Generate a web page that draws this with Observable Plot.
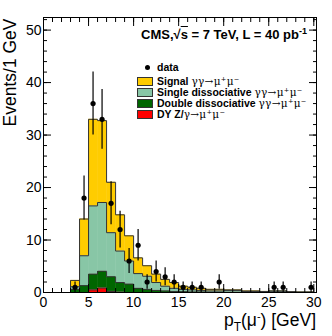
<!DOCTYPE html>
<html><head><meta charset="utf-8">
<script src="https://cdn.jsdelivr.net/npm/d3@7"></script>
<script src="https://cdn.jsdelivr.net/npm/@observablehq/plot@0.6"></script>
<style>
body{margin:0;background:#fff;}
#wrap{position:relative;width:332px;height:336px;font-family:"Liberation Sans",Arial,sans-serif;color:#000;}
#wrap svg{position:absolute;left:0;top:0;}
.ov{position:absolute;white-space:nowrap;line-height:1;}
.gr{font-family:"DejaVu Serif","Liberation Serif",serif;font-weight:normal;letter-spacing:0.3px;}
.lg{position:absolute;left:137px;font-weight:bold;font-size:10.5px;white-space:nowrap;line-height:1;}
.bx{position:absolute;left:137px;width:14px;height:7px;border:1px solid #333;}
</style></head><body><div id="wrap"></div>
<script>
// histogram bins (left edges, 1 GeV wide)
const binStart = [3,4,5,6,7,8,9,10,11,12,13,14,15,16,17,18,19,20,21,22,23,24,25,26,27,28,29];
// per-component expected events (stacked)
const signalMC  = [1.2,7.0,16.5,15.6,9.6,6.9,4.8,3.0,2.0,1.6,1.3,1.1,0.6,0.5,0.4,0.3,0.3,0.1,0.1,0.1,0.1,0.05,0.05,0.05,0.05,0.05,0.05];
const singleMC  = [0.5,5.7,13.0,13.1,8.4,6.0,4.4,2.8,2.5,1.5,0.9,0.6,0.45,0.4,0.3,0.25,0.25,0.35,0.35,0.17,0.17,0.13,0.23,0.23,0.09,0.04,0.04];
const doubleMC  = [0.6,1.3,3.0,3.2,2.8,1.85,1.6,0.8,0.6,0.4,0.3,0.2,0.15,0.1,0.1,0.05,0.05,0.05,0.05,0.03,0.03,0.02,0.02,0.02,0.01,0.01,0.01];
const dyMC      = [0,0,0.5,0.85,0.2,0.05,0,0,0,0,0,0,0,0,0,0,0,0,0,0,0,0,0,0,0,0,0];
// data points
const dataX   = [3.5,4.5,5.5,6.5,7.5,8.5,9.5,10.5,11.5,12.5,13.5,14.5,15.5,16.5,17.5,19.5,25.6,26.6,29.7];
const dataN   = [1,18,36,33,17,12,6,9,2,4,3,2,1,1,1,2,1,1,1];
const dataErr = [1,4.2,6,5.7,4.1,3.5,2.4,3,1.4,2,1.7,1.4,1,1,1,1.4,1,1,1];
// axis ticks
const xMajor = [0,5,10,15,20,25,30];
const xMinor = [0,1,2,3,4,5,6,7,8,9,10,11,12,13,14,15,16,17,18,19,20,21,22,23,24,25,26,27,28,29,30];
const yMajor = [0,10,20,30,40,50];
const yMinor = [0,2,4,6,8,10,12,14,16,18,20,22,24,26,28,30,32,34,36,38,40,42,44,46,48,50,52];
const yTitle = "Events/1 GeV";

const seriesKeys = ["DY","Double","Single","Signal"];
const seriesVals = {DY: dyMC, Double: doubleMC, Single: singleMC, Signal: signalMC};
const colors = {Signal:"#ffcc00", Single:"#88c6a6", Double:"#006600", DY:"#ff0000"};

const rows = [];
for (const s of seriesKeys) binStart.forEach((b,i)=>rows.push({s, x1:b, x2:b+1, v:seriesVals[s][i]}));

// outlines of cumulative stacks
const outline = [];
const cum = binStart.map(()=>0);
for (const s of seriesKeys) {
  binStart.forEach((b,i)=>{ cum[i] += seriesVals[s][i]; });
  outline.push({s, x: binStart[0], y: 0});
  binStart.forEach((b,i)=>outline.push({s, x:b, y:cum[i]}));
  outline.push({s, x: binStart[binStart.length-1]+1, y: cum[cum.length-1]});
  outline.push({s, x: binStart[binStart.length-1]+1, y: 0});
}
const pts = dataX.map((x,i)=>({x, n:dataN[i], e:dataErr[i]}));

const blank = () => "";
const chart = Plot.plot({
  width: 332, height: 336,
  marginLeft: 43, marginRight: 16, marginTop: 17, marginBottom: 44,
  style: {fontFamily: "'Liberation Sans', Arial, sans-serif", fontSize: "14px", color: "#000", background: "transparent"},
  x: {domain: [0, 30.3]},
  y: {domain: [0, 52.4]},
  color: {domain: Object.keys(colors), range: Object.values(colors)},
  marks: [
    Plot.rectY(rows, {x1:"x1", x2:"x2", y:"v", fill:"s", order: seriesKeys}),
    Plot.line(outline, {x:"x", y:"y", z:"s", curve:"step-after", stroke:"#333", strokeWidth:1}),
    Plot.ruleX(pts, {x:"x", y1: d=>d.n-d.e, y2: d=>d.n+d.e, stroke:"#000", strokeWidth:1.2}),
    Plot.dot(pts, {x:"x", y:"n", r:2.6, fill:"#000", stroke:null}),
    Plot.axisX({ticks:xMajor, anchor:"bottom", tickSize:-8, tickFormat:blank, label:null}),
    Plot.axisX({ticks:xMinor, anchor:"bottom", tickSize:-4, tickFormat:blank, label:null}),
    Plot.axisX({ticks:xMajor, anchor:"top", tickSize:-8, tickFormat:blank, label:null}),
    Plot.axisX({ticks:xMinor, anchor:"top", tickSize:-4, tickFormat:blank, label:null}),
    Plot.axisY({ticks:yMajor, anchor:"left", tickSize:-8, tickFormat:blank, label:null}),
    Plot.axisY({ticks:yMinor, anchor:"left", tickSize:-4, tickFormat:blank, label:null}),
    Plot.axisY({ticks:yMajor, anchor:"right", tickSize:-8, tickFormat:blank, label:null}),
    Plot.axisY({ticks:yMinor, anchor:"right", tickSize:-4, tickFormat:blank, label:null}),
    Plot.axisX({ticks:xMajor, anchor:"bottom", tickSize:0, tickPadding:5, label:null, fontSize:14}),
    Plot.axisY({ticks:yMajor, anchor:"left", tickSize:0, tickPadding:2, label:null, fontSize:14}),
    Plot.text([yTitle], {frameAnchor:"top-left", text:d=>d, rotate:-90, textAnchor:"end", lineAnchor:"middle", dx:-33, dy:1, fontSize:17.5, fill:"#000"}),
    Plot.frame({stroke:"#000", strokeWidth:1})
  ]
});
const wrap = document.getElementById("wrap");
wrap.appendChild(chart);

function ov(html, css){ const d=document.createElement("div"); d.className="ov"; d.innerHTML=html; d.style.cssText+=css; wrap.appendChild(d); return d; }
// x label
ov('p<span style="font-size:12px;position:relative;top:5px;">T</span>(μ<span style="font-size:11px;position:relative;top:-6px;">-</span>) [GeV]', "right:16px;top:312px;font-size:17.5px;");
// title
ov('CMS,√<span style="text-decoration:overline;">s</span> = 7 TeV, L = 40 pb<span style="font-size:9px;position:relative;top:-5px;">-1</span>', "right:25px;top:28px;font-size:13px;font-weight:bold;");

// legend
const legendLabels = ["data", "Signal ", "Single dissociative ", "Double dissociative ", "DY Z/"];
const legendProc = ["", "γγ→μ⁺μ⁻", "γγ→μ⁺μ⁻", "γγ→μ⁺μ⁻", "γ→μ⁺μ⁻"];
const legendKeys = [null, "Signal", "Single", "Double", "DY"];
const legendRowY = [67, 81, 92, 103, 114];
legendLabels.forEach((lab,i)=>{
  const t = document.createElement("div"); t.className="lg";
  t.style.left = "157px"; t.style.top = (legendRowY[i]-5.5)+"px";
  t.innerHTML = lab + (legendProc[i] ? '<span class="gr" style="font-size:10.5px;">'+legendProc[i]+'</span>' : "");
  wrap.appendChild(t);
  if (legendKeys[i]) {
    const b = document.createElement("div"); b.className="bx";
    b.style.top = (legendRowY[i]-4)+"px"; b.style.background = colors[legendKeys[i]];
    wrap.appendChild(b);
  } else {
    const d = document.createElement("div");
    d.style.cssText = "position:absolute;left:144.5px;width:5px;height:5px;border-radius:50%;background:#000;top:"+(legendRowY[i]-2.5)+"px;";
    wrap.appendChild(d);
  }
});
</script></body></html>
